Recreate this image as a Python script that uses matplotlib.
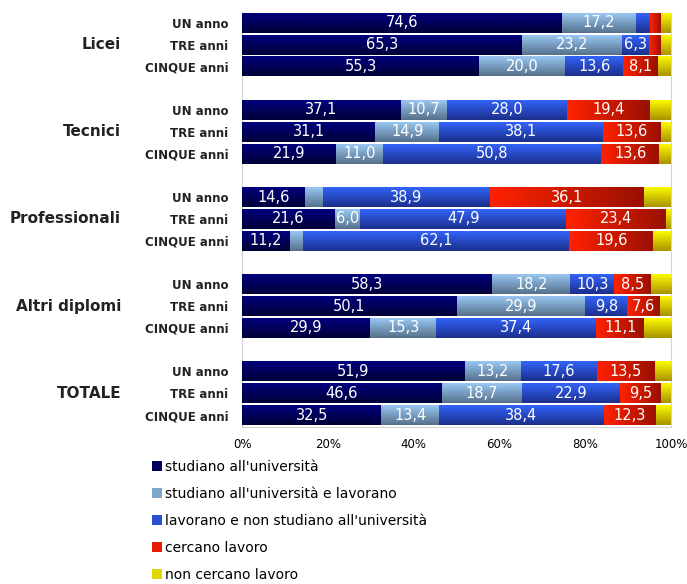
import matplotlib.pyplot as plt
import matplotlib.colors as mcolors
import numpy as np

groups = ["Licei", "Tecnici", "Professionali", "Altri diplomi", "TOTALE"]
periods = ["UN anno", "TRE anni", "CINQUE anni"]

series_names = [
    "studiano all'università",
    "studiano all'università e lavorano",
    "lavorano e non studiano all'università",
    "cercano lavoro",
    "non cercano lavoro",
]

# valori per riga: Licei (UN, TRE, CINQUE), Tecnici, Professionali, Altri diplomi, TOTALE
studiano = [74.6, 65.3, 55.3, 37.1, 31.1, 21.9, 14.6, 21.6, 11.2, 58.3, 50.1, 29.9, 51.9, 46.6, 32.5]
studiano_lavorano = [17.2, 23.2, 20.0, 10.7, 14.9, 11.0, 4.2, 6.0, 3.0, 18.2, 29.9, 15.3, 13.2, 18.7, 13.4]
lavorano = [3.3, 6.3, 13.6, 28.0, 38.1, 50.8, 38.9, 47.9, 62.1, 10.3, 9.8, 37.4, 17.6, 22.9, 38.4]
cercano = [2.6, 2.9, 8.1, 19.4, 13.6, 13.6, 36.1, 23.4, 19.6, 8.5, 7.6, 11.1, 13.5, 9.5, 12.3]
non_cercano = [2.3, 2.3, 3.0, 4.8, 2.3, 2.7, 6.2, 1.1, 4.1, 4.7, 2.6, 6.3, 3.8, 2.3, 3.4]

series = [studiano, studiano_lavorano, lavorano, cercano, non_cercano]

# (colore iniziale, colore finale, direzione del gradiente)
grad = [
    ("#000080", "#000038", "v"),
    ("#9ccbf7", "#56708c", "v"),
    ("#3366ff", "#1c2f8c", "v"),
    ("#ff2200", "#9a1000", "h"),
    ("#ffff00", "#a89400", "v"),
]
mid_colors = ["#00005c", "#7fa6cc", "#2a4fd0", "#e81c00", "#e0d800"]

fig = plt.figure(figsize=(6.87, 5.84), dpi=100)
ax = fig.add_axes([0.3523, 0.2688, 0.6245, 0.7089])

ypos = np.array([4 * g + b for g in range(len(groups)) for b in range(len(periods))])
left = np.zeros(len(ypos))

for k, vals in enumerate(series):
    vals = np.array(vals)
    bars = ax.barh(ypos, vals, left=left, height=0.92, color=mid_colors[k],
                   edgecolor="none", label=series_names[k], zorder=2)
    c0, c1, d = grad[k]
    cmap = mcolors.LinearSegmentedColormap.from_list("g%d" % k, [c0, c1])
    for p in bars:
        x0, w = p.get_x(), p.get_width()
        y0, h = p.get_y(), p.get_height()
        if d == "v":
            img = np.linspace(0, 1, 50).reshape(-1, 1)
        else:
            img = np.linspace(0, 1, 50).reshape(1, -1)
        im = ax.imshow(img, cmap=cmap, extent=(x0, x0 + w, y0 + h, y0),
                       origin="upper", aspect="auto", interpolation="bilinear", zorder=3)
        im.set_clip_path(p)
    if k < 4:
        for y, l, v in zip(ypos, left, vals):
            if v >= 5:
                ax.text(l + v / 2, y, ("%.1f" % v).replace(".", ","), ha="center",
                        va="center", color="white", fontsize=10.5, zorder=4)
    left = left + vals

ax.set_xlim(0, 100)
ax.set_ylim(18.55, -0.45)
ax.set_xticks(range(0, 101, 20))
ax.set_xticklabels(["%d%%" % t for t in range(0, 101, 20)], fontsize=8.5)
ax.set_yticks(ypos)
ax.set_yticklabels(periods * len(groups), fontsize=8.5, fontweight="bold", color="#222222")
ax.tick_params(axis="y", length=0, pad=10)
ax.tick_params(axis="x", length=0, pad=8)
for s in ax.spines.values():
    s.set_color("#d4d4d4")

for g, name in enumerate(groups):
    ax.text(-0.282, 4 * g + 1, name, transform=ax.get_yaxis_transform(), ha="right",
            va="center", fontsize=11, fontweight="bold", color="#222222")

handles, labels = ax.get_legend_handles_labels()
fig.legend(handles, labels, loc="upper left", bbox_to_anchor=(0.221, 0.2125),
           frameon=False, fontsize=10, labelspacing=0.93, handlelength=0.75,
           handleheight=0.75, handletextpad=0.2, borderaxespad=0, borderpad=0)

plt.savefig("out.png", dpi=100)
